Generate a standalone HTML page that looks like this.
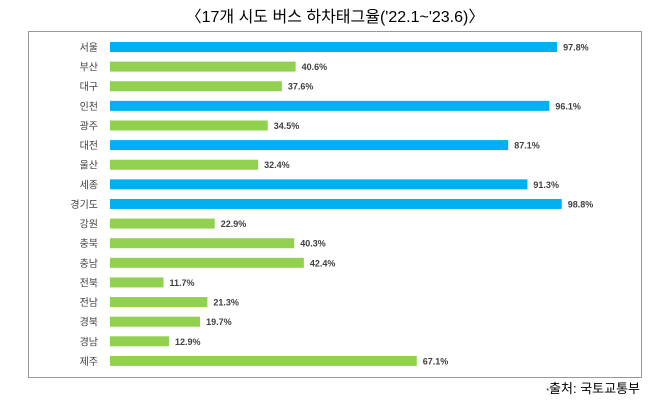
<!DOCTYPE html>
<html><head><meta charset="utf-8"><style>
body{margin:0;background:#fff;width:670px;height:406px;overflow:hidden;font-family:"Liberation Sans","Noto Sans CJK KR",sans-serif;}
</style></head><body>
<svg width="670" height="406">
<text x="335" y="22" text-anchor="middle" font-size="16" fill="#000" font-family="'Liberation Sans','Noto Sans CJK KR',sans-serif">〈17개 시도 버스 하차태그율('22.1~'23.6)〉</text>
<rect x="28.5" y="31.5" width="613" height="346" fill="none" stroke="#333" stroke-dasharray="1,1"/>
<g id="bars"></g>
<text x="640" y="393" text-anchor="end" font-size="13" fill="#000"><tspan font-size="7">*</tspan>출처: 국토교통부</text>
</svg>
<script>
const categories=["서울","부산","대구","인천","광주","대전","울산","세종","경기도","강원","충북","충남","전북","전남","경북","경남","제주"];
const values=[97.8,40.6,37.6,96.1,34.5,87.1,32.4,91.3,98.8,22.9,40.3,42.4,11.7,21.3,19.7,12.9,67.1];
const highlight=[1,0,0,1,0,1,0,1,1,0,0,0,0,0,0,0,0];
const x0=110,scale=4.572,y0=47,step=19.62,bh=10;
const g=document.getElementById('bars');
const NS='http://www.w3.org/2000/svg';
function xs(v){return x0+v*scale;}
function ys(i){return y0+i*step;}
categories.forEach((c,i)=>{
 const y=ys(i);
 const t=document.createElementNS(NS,'text');
 t.setAttribute('x',98);t.setAttribute('y',y+4);t.setAttribute('text-anchor','end');
 t.setAttribute('font-size','10');t.setAttribute('fill','#404040');t.textContent=c;
 
 
 g.appendChild(t);
 const r=document.createElementNS(NS,'rect');
 r.setAttribute('x',x0);r.setAttribute('y',y-bh/2);r.setAttribute('width',xs(values[i])-x0);r.setAttribute('height',bh);
 r.setAttribute('fill',highlight[i]?'#00B0F0':'#92D050');
 
 
 g.appendChild(r);
 const v=document.createElementNS(NS,'text');
 v.setAttribute('x',xs(values[i])+6);v.setAttribute('y',y+3.5);
 v.setAttribute('font-size','9');v.setAttribute('font-weight','bold');v.setAttribute('fill','#404040');
 v.textContent=values[i].toFixed(1)+'%';
 
 
 g.appendChild(v);
});
</script>
</body></html>
